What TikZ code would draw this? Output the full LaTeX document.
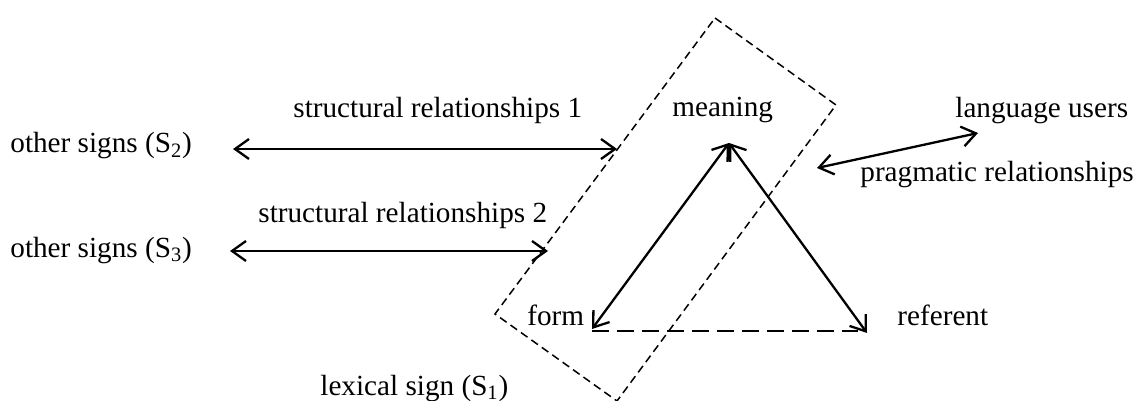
\documentclass[tikz,border=0pt]{standalone}
\usepackage{fontspec}
\setmainfont{Liberation Serif}
\usepackage{tikz}
\usetikzlibrary{arrows.meta}
\tikzset{
  signlabel/.style={
    inner sep=0pt,
    anchor=base west,
    font=\fontsize{14.6}{17}\selectfont
  },
  relarrow/.style={
    {Straight Barb[length=7pt,width=10pt]}-{Straight Barb[length=7pt,width=10pt]},
    line width=1.15pt
  },
  signbox/.style={
    line width=0.75pt,
    dash pattern=on 4pt off 2.4pt
  },
  baseline/.style={
    line width=1pt,
    dash pattern=on 8.5pt off 4pt
  }
}

\begin{document}
\begin{tikzpicture}[x=0.5pt,y=-0.5pt]
    \useasboundingbox (0,0) rectangle (1136,401);

    \node[signlabel] (signtwo) at (10,153) {other signs (S\textsubscript{2})};
    \node[signlabel] (signthree) at (10,257) {other signs (S\textsubscript{3})};
    \node[signlabel] (structone) at (293,118) {structural relationships 1};
    \node[signlabel] (structtwo) at (258,222) {structural relationships 2};
    \node[signlabel] (meaning) at (672,117) {meaning};
    \node[signlabel] (users) at (955,118) {language users};
    \node[signlabel] (pragmatic) at (860,182) {pragmatic relationships};
    \node[signlabel] (form) at (527,325) {form};
    \node[signlabel] (referent) at (897,325) {referent};
    \node[signlabel] (lexical) at (320,395) {lexical sign (S\textsubscript{1})};

    % arrow ends
    \coordinate (twoleft) at (233,149);
    \coordinate (tworight) at (617,149);
    \coordinate (threeleft) at (230,251);
    \coordinate (threeright) at (548,251);
    \coordinate (pragleft) at (817,168);
    \coordinate (pragright) at (978,133);
    \coordinate (meaningtip) at (729,143);
    \coordinate (formtip) at (592,329);
    \coordinate (referenttip) at (867,333);
    \coordinate (baseend) at (858,331);

    % corners of the lexical sign
    \coordinate (boxtop) at (715,18);
    \coordinate (boxright) at (836,105);
    \coordinate (boxbottom) at (617,401);
    \coordinate (boxleft) at (495,314);

    \draw[signbox] (boxtop) -- (boxright) -- (boxbottom) -- (boxleft) -- cycle;

    \draw[relarrow] (twoleft) -- (tworight);
    \draw[relarrow] (threeleft) -- (threeright);
    \draw[relarrow] (pragleft) -- (pragright);
    \draw[relarrow] (formtip) -- (meaningtip);
    \draw[relarrow] (meaningtip) -- (referenttip);
    \draw[baseline] ([yshift=-1pt]formtip) -- (baseend);
\end{tikzpicture}
\end{document}
